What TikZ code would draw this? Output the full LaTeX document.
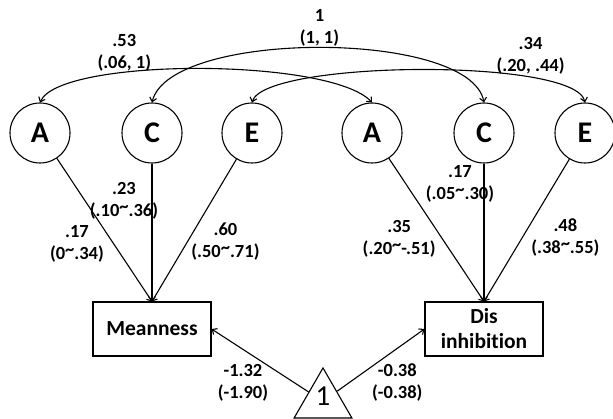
\documentclass[tikz,border=0pt]{standalone}
\usepackage{fontspec}
\setmainfont{Carlito}[Ligatures=NoCommon]
\usetikzlibrary{arrows.meta,shapes.geometric}

\newcommand{\rng}{\raisebox{.22em}{\textasciitilde}}
\tikzset{
  factor/.style={circle,draw,minimum size=60pt,inner sep=0pt,font=\fontsize{30}{32}\selectfont\bfseries},
  trait/.style={rectangle,draw,minimum width=118pt,minimum height=54pt,align=center,font=\fontsize{21.5}{25}\selectfont\bfseries},
  est/.style={align=center,inner sep=1pt,font=\fontsize{18.5}{22}\selectfont\bfseries},
  meantri/.style={regular polygon,regular polygon sides=3,draw,minimum size=66.7pt,inner sep=0pt}
}

\begin{document}
\begin{tikzpicture}[x=1pt,y=-1pt,line width=1.1pt,>={Straight Barb[length=4pt,width=7pt]}]
			\useasboundingbox (0,0) rectangle (613,419);
			% latent factors
			\node[factor] (A_1) at (40,133) {A};
			\node[factor] (C_1) at (152,133) {C};
			\node[factor] (E_1) at (252,133) {E};
			\node[factor] (A_2) at (372,133) {A};
			\node[factor] (C_2) at (484,133) {C};
			\node[factor] (E_2) at (585,133) {E};
			% observed traits
			\node[trait] (mean) at (152,329) {Meanness};
			\node[trait] (dis) at (484,329) {Dis\\inhibition};
			\node[meantri,label={[yshift=5pt,font=\fontsize{29}{30}\selectfont]center:1}] (one) at (323,401.3) {};
			\path[->]
				(A_1) edge node[est,pos=.6,xshift=-37pt] {.17\\(0\rng.34)} (mean.north)
				(C_1) edge node[est,pos=.27,xshift=-28pt] {.23\\(.10\rng.36)} (mean.north)
				(E_1) edge node[est,pos=.58,xshift=38pt] {.60\\(.50\rng.71)} (mean.north)
				(A_2) edge node[est,pos=.56,xshift=-43pt] {.35\\(.20\rng-.51)} (dis.north)
				(C_2) edge node[est,pos=.15,xshift=-24pt] {.17\\(.05\rng.30)} (dis.north)
				(E_2) edge node[est,pos=.55,xshift=43pt] {.48\\(.38\rng.55)} (dis.north)
				(one) edge node[est,pos=.15,xshift=-51pt] {-1.32\\(-1.90)} (mean.east)
				(one) edge node[est,pos=.14,xshift=48pt] {-0.38\\(-0.38)} (dis.west);
			% correlations between twins
			\draw[<->] (A_1.north) .. controls +(20,-45) and +(-42,-45) .. (A_2.north)
				node[est,pos=.33,above] {.53\\(.06, 1)};
			\draw[<->] (C_1.north) .. controls +(18,-73) and +(-14,-73) .. (C_2.north)
				node[est,pos=.5,above] {1\\(1, 1)};
			\draw[<->] (E_1.north) .. controls +(13,-42) and +(-10,-45) .. (E_2.north)
				node[est,pos=.75,above,yshift=2pt] {.34\\(.20, .44)};
		\end{tikzpicture}
\end{document}
